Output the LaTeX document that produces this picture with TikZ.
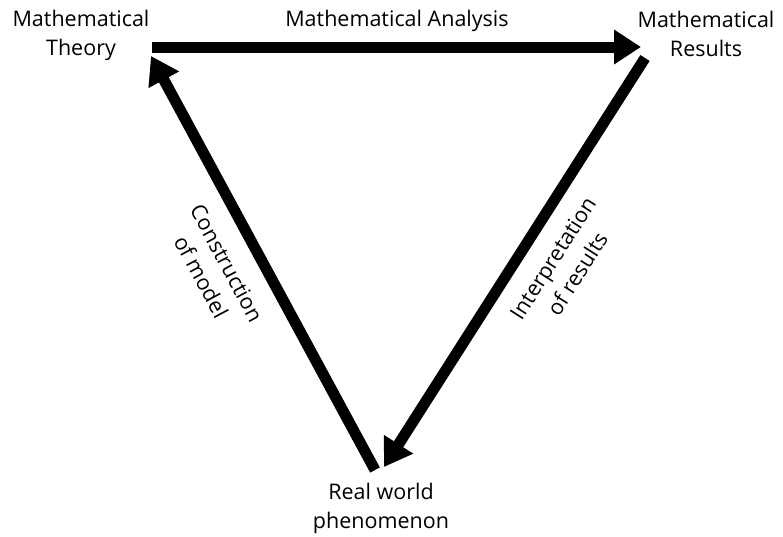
\documentclass[tikz,border=0pt]{standalone}
\usepackage{fontspec}
\setmainfont{Open Sans}
\usetikzlibrary{arrows.meta}
\begin{document}
\begin{tikzpicture}[x=1pt,y=-1pt,
  lbl/.style={font=\fontsize{21.5}{29}\selectfont, align=center, inner sep=0pt},
  bigarrow/.style={line width=11pt, -{Triangle[length=27pt,width=33pt]}}]
\useasboundingbox (0,0) rectangle (783,536);
\coordinate (tl) at (152,47);
\coordinate (tr) at (641,47);
\coordinate (rs) at (645,58);
\coordinate (rb) at (384,467);
\coordinate (lb) at (375,470);
\coordinate (lt) at (151,56);
\node[lbl] (theory) at (81,35) {Mathematical\\Theory};
\node[lbl] (results) at (706,34) {Mathematical\\Results};
\node[lbl] (real) at (381,508) {Real world\\phenomenon};
\node[lbl] (analysis) at (397,21) {Mathematical Analysis};
\draw[bigarrow] (tl) -- (tr);
\draw[bigarrow] (rs) -- (rb);
\draw[bigarrow] (lb) -- (lt);
\node[lbl, rotate=-61.8] (construct) at (214,270) {Construction\\of model};
\node[lbl, rotate=57.5] (interp) at (565,266) {Interpretation\\of results};
\end{tikzpicture}
\end{document}
